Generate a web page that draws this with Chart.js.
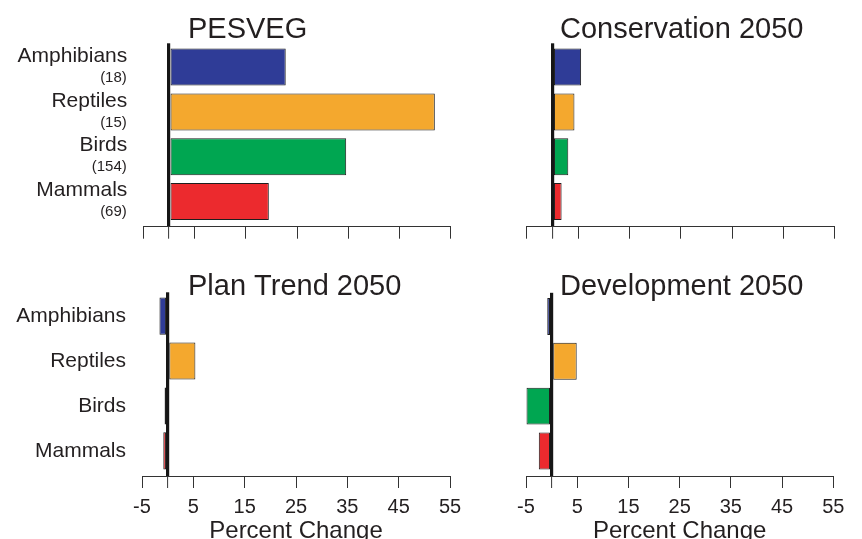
<!DOCTYPE html>
<html>
<head>
<meta charset="utf-8">
<title>Percent change in habitat by taxon and scenario</title>
<script src="https://cdn.jsdelivr.net/npm/chart.js@4.4.1/dist/chart.umd.min.js"></script>
<style>
  html, body { margin: 0; padding: 0; background: #ffffff; }
  #wrap { position: relative; width: 862px; height: 539px; overflow: hidden; background: #ffffff; }
  #wrap canvas { position: absolute; left: 0; top: 0; }
</style>
</head>
<body>
<div id="wrap">
  <canvas id="c-pesveg" width="862" height="539"></canvas>
  <canvas id="c-conservation" width="862" height="539"></canvas>
  <canvas id="c-plantrend" width="862" height="539"></canvas>
  <canvas id="c-development" width="862" height="539"></canvas>
</div>
<script>
// Taxa, species counts and colours
const groups = ['Amphibians', 'Reptiles', 'Birds', 'Mammals'];
const speciesCounts = ['(18)', '(15)', '(154)', '(69)'];
const groupColors = ['#2f3c97', '#f4a82e', '#00a651', '#ec2a2e'];

// Axis ticks (percent change)
const xTicks = [-5, 0, 5, 15, 25, 35, 45, 55];

// Percent change per taxon, one array per scenario
const pesveg = [22.8, 51.9, 34.6, 19.5];
const conservation2050 = [5.6, 4.3, 3.1, 1.8];
const planTrend2050 = [-1.6, 5.4, -0.6, -0.85];
const development2050 = [-0.85, 4.9, -4.9, -2.5];

const FONT = "'Liberation Sans', Arial, Helvetica, sans-serif";
const INK = '#231f20';
Chart.defaults.font.family = FONT;
Chart.defaults.color = INK;

// Panel title drawn at a fixed spot above each plot region
const panelTitle = {
  id: 'panelTitle',
  afterDraw(chart, args, opts) {
    const ctx = chart.ctx;
    ctx.save();
    ctx.font = opts.size + 'px ' + FONT;
    ctx.fillStyle = INK;
    ctx.textAlign = 'left';
    ctx.textBaseline = 'alphabetic';
    ctx.fillText(opts.text, opts.x, opts.y);
    ctx.restore();
  }
};

// Species counts written under each taxon name, placed from the y scale
const countLabels = {
  id: 'countLabels',
  afterDraw(chart, args, opts) {
    if (!opts.show) return;
    const ctx = chart.ctx;
    const ys = chart.scales.y;
    ctx.save();
    ctx.font = opts.size + 'px ' + FONT;
    ctx.fillStyle = INK;
    ctx.textAlign = 'right';
    ctx.textBaseline = 'middle';
    speciesCounts.forEach((t, i) => {
      ctx.fillText(t, chart.chartArea.left - opts.gap, ys.getPixelForValue(i + 1) + opts.offset);
    });
    ctx.restore();
  }
};

const panels = [
  { id: 'c-pesveg', title: 'PESVEG', values: pesveg,
    area: { left: 143.3, right: 450.7, top: 43.3, bottom: 226.7 },
    titleX: 188, titleY: 37.5, names: true, counts: true, tickLabels: false },
  { id: 'c-conservation', title: 'Conservation 2050', values: conservation2050,
    area: { left: 526.7, right: 834.7, top: 43.3, bottom: 226.7 },
    titleX: 560, titleY: 37.5, names: false, counts: false, tickLabels: false },
  { id: 'c-plantrend', title: 'Plan Trend 2050', values: planTrend2050,
    area: { left: 142, right: 450, top: 292.3, bottom: 476 },
    titleX: 188, titleY: 295, names: true, counts: false, tickLabels: true },
  { id: 'c-development', title: 'Development 2050', values: development2050,
    area: { left: 526, right: 833.3, top: 292.8, bottom: 476 },
    titleX: 560, titleY: 295, names: false, counts: false, tickLabels: true }
];

const Y_MIN = 0.47, Y_MAX = 4.56;

panels.forEach(p => {
  const xAxisH = p.tickLabels ? 539 - p.area.bottom : 12;

  const scales = {
    x: {
      type: 'linear', min: -5, max: 55,
      afterBuildTicks: s => { s.ticks = xTicks.map(v => ({ value: v })); },
      afterFit: s => { s.height = xAxisH; },
      grid: {
        z: 1,
        drawOnChartArea: true,
        color: c => (c.tick && c.tick.value === 0) ? '#161616' : 'rgba(0,0,0,0)',
        lineWidth: c => (c.tick && c.tick.value === 0) ? 3.2 : 1,
        drawTicks: true, tickLength: 12, tickColor: '#333333', tickWidth: 1
      },
      border: { display: true, color: '#333333', width: 1, z: 1 },
      ticks: {
        display: p.tickLabels, autoSkip: false, maxRotation: 0, padding: 7,
        font: { size: 20 }, color: INK,
        callback: v => v === 0 ? '' : String(v)
      },
      title: {
        display: p.tickLabels, text: 'Percent Change',
        font: { size: 24 }, color: INK, padding: { top: 0, bottom: -7 }
      }
    },
    y: {
      type: 'linear', reverse: true, offset: false, min: Y_MIN, max: Y_MAX,
      afterBuildTicks: s => { s.ticks = groups.map((g, i) => ({ value: i + 1 })); },
      afterFit: s => { s.width = p.area.left; },
      grid: { display: false, drawTicks: false, offset: false },
      border: { display: false },
      ticks: {
        display: p.names, autoSkip: false, padding: 16,
        font: { size: 21 }, color: INK,
        labelOffset: p.counts ? -11.2 : 0,
        callback: v => groups[v - 1] || ''
      }
    }
  };

  new Chart(document.getElementById(p.id), {
    type: 'bar',
    data: {
      datasets: [{
        data: p.values.map((v, i) => ({ x: v, y: i + 1 })),
        backgroundColor: groupColors,
        borderColor: '#1e1e1e',
        borderWidth: 1,
        borderSkipped: false,
        barPercentage: 0.825,
        categoryPercentage: 1
      }]
    },
    options: {
      indexAxis: 'y',
      responsive: false,
      animation: false,
      events: [],
      layout: {
        padding: {
          left: 0,
          top: p.area.top,
          right: 862 - p.area.right,
          bottom: 539 - p.area.bottom - xAxisH
        }
      },
      scales,
      plugins: {
        legend: { display: false },
        tooltip: { enabled: false },
        panelTitle: { text: p.title, x: p.titleX, y: p.titleY, size: 29 },
        countLabels: { show: p.counts, size: 15, gap: 16.5, offset: 10.5 }
      }
    },
    plugins: [panelTitle, countLabels]
  });
});
</script>
</body>
</html>
